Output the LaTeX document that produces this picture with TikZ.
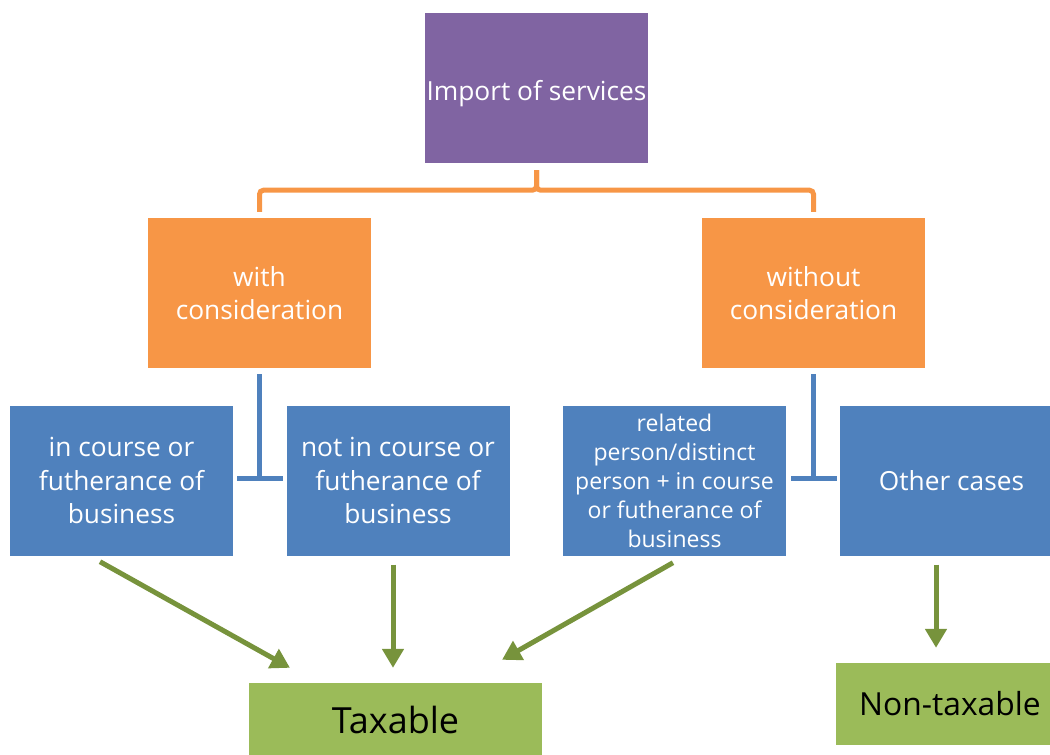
\documentclass[tikz,border=0pt]{standalone}
\usepackage{fontspec}
\setmainfont{Open Sans}
\usepackage{xcolor}
\usepackage{tikz}
\usetikzlibrary{positioning, arrows.meta, calc}
\definecolor{servpurple}{HTML}{8064A2}
\definecolor{consorange}{HTML}{F79646}
\definecolor{caseblue}{HTML}{4F81BD}
\definecolor{taxgreen}{HTML}{9BBB59}
\definecolor{arrowgreen}{HTML}{77933C}

\begin{document}
\begin{tikzpicture}[x=1pt, y=-1pt,
  box/.style={minimum width=223pt, minimum height=150pt, inner sep=0pt, align=center,
    text=white, font=\fontsize{26.3}{33.5}\selectfont},
  result/.style={fill=taxgreen, inner sep=0pt, align=center, text=black},
  treeline/.style={consorange, line width=5pt, rounded corners=4pt, shorten <=7pt, shorten >=6pt},
  teeline/.style={caseblue, line width=5pt, shorten <=6pt, -{Bar[width=46pt]}},
  flow/.style={arrowgreen, line width=5pt, -{Triangle[length=19pt, width=21pt]}}]
  \useasboundingbox (0,0) rectangle (1050,755);

  % top and split
  \node[box, fill=servpurple] (imp) at (536.5,88) {\raisebox{-12pt}[0pt][0pt]{Import of services}};
  \node[box, fill=consorange] (with) at (259.5,293) {with\\consideration};
  \node[box, fill=consorange] (without) at (813.5,293) {without\\consideration};
  \draw[treeline] (imp.south) -- ++(0,27) -| (with.north);
  \draw[treeline] (imp.south) -- ++(0,27) -| (without.north);

  % cases
  \node[box, fill=caseblue] (c1) at (121.5,480.5) {in course or\\futherance of\\business};
  \node[box, fill=caseblue] (c2) at (398,480.5) {not in course or\\futherance of\\business};
  \node[box, fill=caseblue, font=\fontsize{23}{29}\selectfont] (c3) at (674.5,480.5)
    {related\\person/distinct\\person + in course\\or futherance of\\business};
  \node[box, fill=caseblue] (c4) at (951.5,480.5) {Other cases};
  \coordinate (teeL) at ($(with.south)+(0,113)$);
  \coordinate (teeR) at ($(without.south)+(0,113)$);
  \draw[teeline] (with.south) -- (teeL);
  \draw[teeline] (without.south) -- (teeR);

  % outcome
  \node[result, minimum width=293pt, minimum height=74pt, font=\fontsize{36}{42}\selectfont]
    (tax) at (395.5,720) {Taxable};
  \node[result, minimum width=228pt, minimum height=82pt, font=\fontsize{31.8}{38}\selectfont]
    (nontax) at (950,704) {Non-taxable};
  \draw[flow] ($(c1.south)+(-21.5,6)$) -- ($(tax.north)+(-105.5,-15)$);
  \draw[flow] ($(c2.south)+(-5,9)$) -- ($(tax.north)+(-2.5,-15)$);
  \draw[flow] ($(c3.south)+(-1.5,7)$) -- ($(tax.north)+(106.5,-23)$);
  \draw[flow] ($(c4.south)+(-15.5,9)$) -- ($(nontax.north)+(-14,-15)$);
\end{tikzpicture}
\end{document}
